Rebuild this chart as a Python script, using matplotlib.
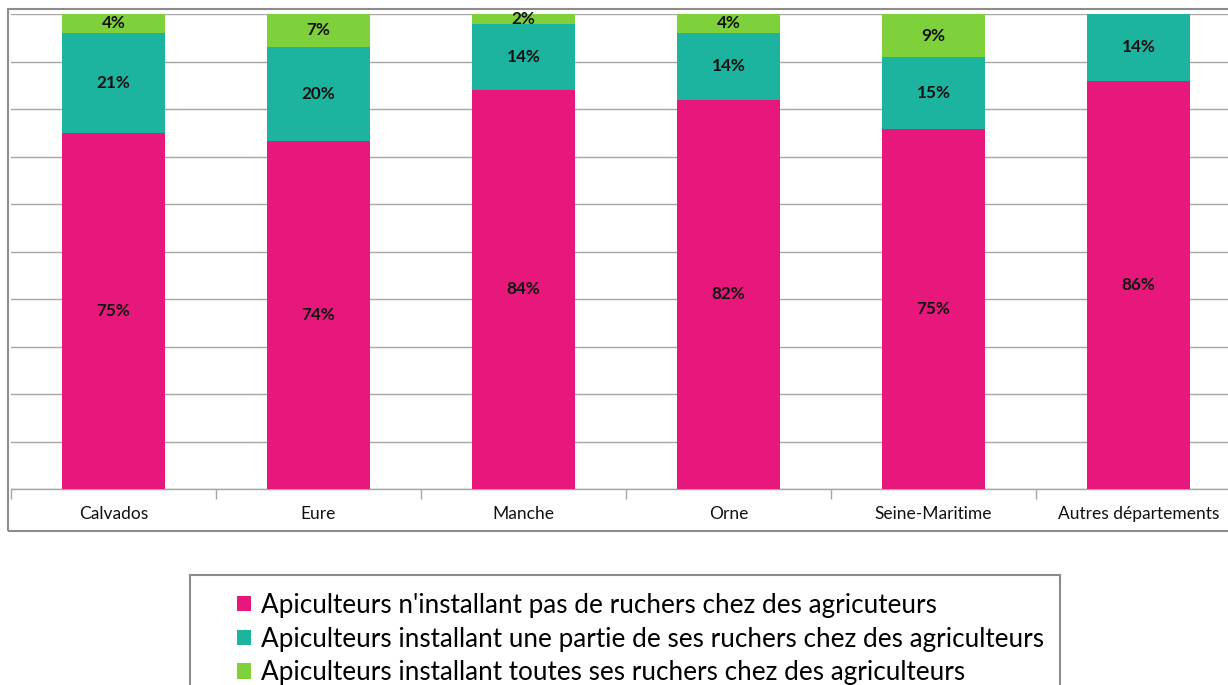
import matplotlib
matplotlib.use("Agg")
import numpy as np
import matplotlib.pyplot as plt
from matplotlib.patches import Rectangle, Patch

departements = ["Calvados", "Eure", "Manche", "Orne", "Seine-Maritime", "Autres départements"]
pas_de_ruchers = [75, 74, 84, 82, 75, 86]
une_partie = [21, 20, 14, 14, 15, 14]
toutes = [4, 7, 2, 4, 9, 0]

series_names = [
    "Apiculteurs n'installant pas de ruchers chez des agricuteurs",
    "Apiculteurs installant une partie de ses ruchers chez des agriculteurs",
    "Apiculteurs installant toutes ses ruchers chez des agriculteurs",
]
colors = ["#e8177b", "#1cb39f", "#7fd13b"]

plt.rcParams["font.family"] = ["Lato", "DejaVu Sans"]

W, H = 1228, 685
fig = plt.figure(figsize=(W / 100, H / 100), dpi=100)

# plot area in pixels: left 11, baseline 489, top 14, category width 205
ax = fig.add_axes([11 / W, (H - 489) / H, 6 * 205 / W, 475 / H])

data = np.array([pas_de_ruchers, une_partie, toutes], dtype=float)
shares = data / data.sum(axis=0) * 100  # 100% stacked like the original
x = np.arange(len(departements))
bottom = np.zeros(len(departements))
for vals, shown, col in zip(shares, data, colors):
    ax.bar(x, vals, 0.5, bottom=bottom, color=col, zorder=3)
    for xi, b, v, s in zip(x, bottom, vals, shown):
        if s > 0:
            ax.text(xi, b + v / 2, f"{int(s)}%", ha="center", va="center",
                    fontsize=12.3, fontweight="bold", color="#111111", zorder=4)
    bottom += vals

ax.set_xlim(-0.5, len(departements) - 0.5)
ax.set_ylim(0, 100)
ax.set_yticks(np.arange(0, 101, 10))
ax.yaxis.grid(True, color="#a6a6a6", linewidth=1, zorder=0)
ax.tick_params(axis="y", left=False, labelleft=False)
for s in ["top", "right", "left"]:
    ax.spines[s].set_visible(False)
ax.spines["bottom"].set_color("#a6a6a6")
ax.spines["bottom"].set_linewidth(1)

ax.set_xticks(x)
ax.set_xticklabels(departements, fontsize=12.5, color="#111111")
ax.tick_params(axis="x", length=0, pad=12.5)
# category separators
ax.set_xticks(np.arange(-0.5, len(departements), 1), minor=True)
ax.tick_params(axis="x", which="minor", length=7, color="#a6a6a6", width=1)

# outer chart frame
fig.patches.append(Rectangle((8 / W, (H - 531) / H), 1300 / W, 522 / H,
                             transform=fig.transFigure, fill=False,
                             edgecolor="#8c8c8c", linewidth=1.5, zorder=0))
# legend frame
fig.patches.append(Rectangle((190 / W, -50 / H), 870 / W, (H - 575 + 50) / H,
                             transform=fig.transFigure, fill=False,
                             edgecolor="#8c8c8c", linewidth=1.5, zorder=0))

handles = [Patch(facecolor=c, edgecolor="none") for c in colors]
fig.legend(handles, series_names, loc="upper left",
           bbox_to_anchor=(237 / W, (H - 593) / H), frameon=False,
           fontsize=18.8, borderpad=0, borderaxespad=0,
           handlelength=0.52, handleheight=0.52, handletextpad=0.4,
           labelspacing=0.33)

fig.savefig("out.png", dpi=100)
